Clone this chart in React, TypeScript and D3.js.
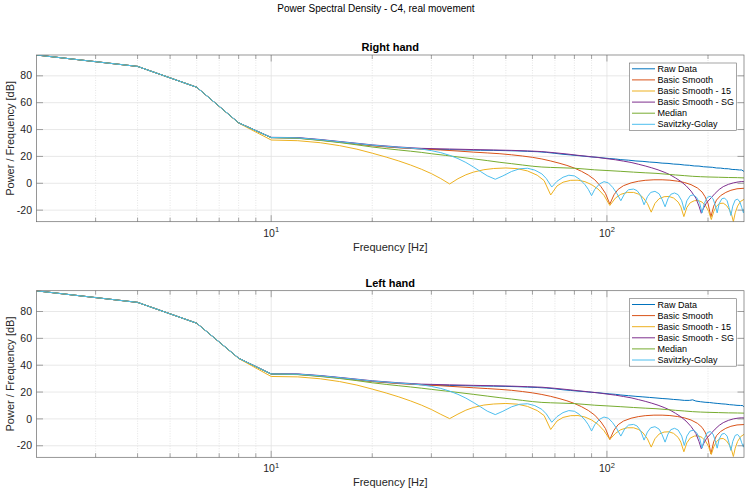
import React from "react";
import * as d3 from "d3";

type Pt = [number, number];

// ---------- data (frequency in Hz, power in dB) ----------
const SERIES_LABELS = ["Raw Data", "Basic Smooth", "Basic Smooth - 15", "Basic Smooth - SG", "Median", "Savitzky-Golay"];
const SERIES_COLORS = ["#0072BD", "#D95319", "#EDB120", "#7E2F8E", "#77AC30", "#4DBEEE"];
const PANEL_TITLES = ["Right hand", "Left hand"];
const SUPTITLE = "Power Spectral Density - C4, real movement";
const X_LABEL = "Frequency [Hz]";
const Y_LABEL = "Power / Frequency [dB]";
const X_DOMAIN: [number, number] = [2, 256];
const Y_DOMAIN: [number, number] = [-28.6, 95.5];
const Y_TICKS = [-20, 0, 20, 40, 60, 80];
const X_MAJOR_TICKS = [10, 100];
const X_MINOR_TICKS = [3, 4, 5, 6, 7, 8, 9, 20, 30, 40, 50, 60, 70, 80, 90, 200];

// Right hand
const rightRaw: Pt[] = [[2,95.5],[4,87.0],[6,71.5],[8,45.0],[10,34.0],[12,33.8],[14,32.3],[16,30.8],[18,29.4],[20,28.2],[22,27.3],[24,26.6],[26,26.0],[28,25.6],[30,25.3],[34,25.0],[38,24.8],[42,24.6],[46,24.5],[50,24.3],[54,24.1],[58,23.8],[62,23.5],[66,23.0],[70,22.3],[74,21.6],[78,21.1],[82,20.6],[86,20.1],[90,19.6],[94,19.3],[98,18.8],[102,18.4],[106,18.1],[110,17.6],[116,17.2],[122,16.6],[128,16.3],[134,15.8],[140,15.5],[146,15.0],[152,14.8],[158,14.3],[164,14.1],[170,13.6],[176,13.4],[182,12.9],[188,12.8],[194,12.3],[200,12.1],[206,11.9],[212,11.4],[218,11.3],[224,10.9],[230,10.8],[236,10.3],[242,10.2],[248,9.9],[252,9.9],[256,8.8]];
const rightBasic: Pt[] = [[2,95.5],[4,87.0],[6,71.5],[8,45.0],[10,34.0],[12,33.6],[14,32.1],[16,30.6],[18,29.2],[20,27.9],[24,26.4],[28,25.5],[32,24.8],[36,24.0],[40,23.2],[44,22.6],[48,22.0],[52,21.2],[56,20.3],[60,19.3],[64,18.1],[68,16.6],[72,15.0],[76,13.3],[80,11.3],[84,8.9],[88,6.1],[92,2.6],[96,-2.5],[99,-7.5],[102,-15.5],[105,-8.5],[108,-4.5],[112,-1.8],[118,0.3],[124,1.5],[130,2.2],[138,2.6],[146,2.6],[154,2.3],[162,1.6],[170,0.6],[178,-1.0],[186,-3.5],[192,-6.5],[196,-10.0],[200,-15.0],[204,-25.0],[208,-17.0],[212,-12.5],[218,-9.2],[226,-6.8],[234,-5.2],[244,-4.1],[256,-3.7]];
const rightBasic15: Pt[] = [[2,95.5],[4,87.0],[6,71.5],[8,44.8],[10,32.2],[12,31.7],[14,30.2],[16,28.0],[18,25.4],[20,22.4],[22,19.5],[24,16.6],[26,13.6],[28,10.5],[30,7.2],[32,3.5],[34,-0.5],[36,3.4],[38,6.3],[40,8.3],[43,10.1],[46,11.0],[50,11.4],[54,10.9],[58,9.2],[62,6.0],[65,2.0],[68,-8.7],[71,-2.0],[74,0.8],[78,2.2],[82,2.3],[86,1.2],[90,-1.0],[94,-4.2],[98,-9.0],[102,-16.5],[106,-11.0],[110,-8.2],[115,-6.8],[120,-6.8],[124,-8.0],[128,-10.5],[132,-15.0],[135.5,-21.5],[139,-15.0],[143,-11.5],[148,-10.0],[153,-9.8],[158,-11.0],[163,-14.0],[166,-17.5],[169.5,-24.8],[173,-18.0],[177,-14.5],[182,-13.0],[187,-12.8],[192,-14.0],[197,-17.0],[201,-21.0],[204.6,-27.0],[208,-21.0],[212,-17.0],[217,-15.0],[222,-14.8],[227,-16.5],[232,-20.0],[235.5,-24.0],[238,-28.6],[241,-22.0],[245,-17.0],[250,-13.5],[256,-12.0]];
const rightBasicSG: Pt[] = [[2,95.5],[4,87.0],[6,71.5],[8,45.0],[10,34.2],[12,34.0],[14,32.6],[16,31.1],[18,29.8],[20,28.6],[24,27.0],[28,26.0],[34,25.5],[40,25.1],[46,24.8],[52,24.5],[58,24.1],[64,23.6],[70,22.7],[76,21.8],[82,20.8],[88,20.0],[94,19.2],[100,18.3],[106,17.5],[112,16.5],[118,15.5],[124,14.2],[130,12.9],[136,11.5],[142,10.0],[148,8.3],[154,6.4],[160,4.0],[166,1.4],[172,-1.8],[178,-5.8],[184,-11.0],[188,-17.0],[191,-22.3],[194,-18.5],[198,-14.5],[204,-11.0],[210,-7.5],[216,-4.6],[222,-2.5],[230,-0.8],[238,0.3],[246,1.0],[252,1.3],[256,1.2]];
const rightMedian: Pt[] = [[2,95.5],[4,87.0],[6,71.5],[8,45.0],[10,34.0],[12,33.5],[14,31.9],[16,30.3],[18,28.6],[20,27.0],[22,25.8],[24,24.8],[26,23.9],[28,23.0],[30,22.0],[33,20.8],[36,19.6],[40,18.2],[44,16.9],[48,15.6],[52,14.6],[56,13.6],[60,12.7],[64,12.1],[68,11.8],[74,11.5],[80,11.2],[86,10.6],[92,10.0],[100,9.5],[110,8.9],[120,8.3],[130,7.8],[140,7.4],[150,6.8],[160,6.2],[170,5.7],[180,5.2],[190,4.9],[200,4.7],[215,4.5],[230,4.3],[245,4.2],[256,4.0]];
const rightSG: Pt[] = [[2,95.5],[4,87.0],[6,71.5],[8,45.0],[10,34.1],[12,33.8],[14,32.4],[16,30.9],[18,29.6],[20,28.4],[22,27.5],[24,26.8],[26,26.2],[28,25.5],[30,24.3],[32,22.8],[34,20.8],[36,18.4],[38,15.5],[40,12.2],[42,8.8],[44,5.6],[46.5,3.0],[49,5.5],[52,8.8],[55,10.8],[58,11.2],[61,9.8],[64,7.0],[66,3.5],[68.5,-2.8],[71,1.5],[74,4.5],[77,6.0],[80,5.5],[83,3.0],[86,-1.0],[88,-4.5],[90,-9.2],[92,-4.5],[95,-0.5],[98,1.2],[101,0.3],[104,-3.0],[107,-7.5],[110,-13.0],[113,-7.5],[116,-4.8],[120,-4.3],[123,-5.5],[126,-9.0],[129,-16.0],[132,-10.0],[135,-6.8],[139,-6.0],[143,-7.8],[146,-12.0],[149,-17.5],[152,-11.5],[155,-8.2],[159,-7.2],[163,-8.5],[167,-13.0],[170,-20.0],[173,-13.0],[177,-9.2],[181,-8.6],[185,-10.5],[189,-15.0],[192,-22.0],[195,-15.0],[199,-10.5],[203,-9.6],[207,-11.5],[210,-16.0],[213,-22.0],[216,-15.0],[220,-11.5],[224,-11.0],[228,-13.0],[231,-18.0],[234,-24.0],[237,-17.0],[241,-12.5],[245,-11.8],[249,-14.0],[252,-18.0],[255,-22.0],[256,-19.0]];

// Left hand
const leftRaw: Pt[] = [[2,95.4],[4,86.8],[6,71.3],[8,45.2],[10,33.4],[12,33.3],[14,32.0],[16,30.6],[18,29.2],[20,28.0],[22,27.2],[24,26.5],[26,26.0],[28,25.5],[30,25.2],[34,24.9],[38,24.7],[42,24.5],[46,24.4],[50,24.2],[54,24.0],[58,23.7],[62,23.4],[66,23.0],[70,22.4],[74,21.7],[78,21.2],[82,20.7],[86,20.3],[90,19.8],[94,19.5],[98,19.0],[102,18.6],[106,18.3],[110,17.8],[116,17.3],[122,16.8],[128,16.4],[134,16.0],[140,15.6],[146,15.2],[152,14.9],[158,14.5],[164,14.2],[170,13.8],[176,13.8],[180,14.2],[184,13.3],[190,12.8],[196,12.4],[202,12.2],[208,11.8],[214,11.5],[220,11.2],[226,11.0],[232,10.6],[238,10.4],[244,10.1],[250,10.0],[254,9.9],[256,8.9]];
const leftBasic: Pt[] = [[2,95.4],[4,86.8],[6,71.3],[8,45.2],[10,33.4],[12,33.1],[14,31.8],[16,30.4],[18,29.0],[20,27.8],[24,26.3],[28,25.4],[32,24.7],[36,23.9],[40,23.2],[44,22.6],[48,22.0],[52,21.3],[56,20.4],[60,19.4],[64,18.2],[68,16.8],[72,15.2],[76,13.5],[80,11.5],[84,9.1],[88,6.3],[92,2.8],[96,-2.3],[99,-7.2],[102,-15.3],[105,-8.3],[108,-4.3],[112,-1.6],[118,0.5],[124,1.7],[130,2.4],[138,2.8],[146,2.8],[154,2.5],[162,1.8],[170,0.8],[178,-0.8],[186,-3.3],[192,-6.3],[196,-9.8],[200,-14.8],[204,-26.0],[208,-17.0],[212,-12.5],[218,-9.4],[226,-7.0],[234,-5.5],[244,-4.5],[256,-4.2]];
const leftBasic15: Pt[] = [[2,95.4],[4,86.8],[6,71.3],[8,45.0],[10,31.6],[12,31.3],[14,29.9],[16,27.8],[18,25.2],[20,22.2],[22,19.3],[24,16.4],[26,13.4],[28,10.3],[30,7.0],[32,3.4],[34,0.2],[36,3.6],[38,6.5],[40,8.5],[43,10.3],[46,11.1],[50,11.5],[54,11.0],[58,9.3],[62,6.2],[65,2.5],[68,-7.9],[71,-1.6],[74,1.1],[78,2.4],[82,2.5],[86,1.4],[90,-0.8],[94,-4.0],[98,-8.8],[102,-15.3],[106,-10.8],[110,-8.0],[115,-6.6],[120,-6.6],[124,-7.8],[128,-10.3],[132,-14.8],[135.5,-21.0],[139,-14.8],[143,-11.3],[148,-9.8],[153,-9.6],[158,-10.8],[163,-13.8],[166,-17.3],[169.5,-24.5],[173,-17.8],[177,-14.3],[182,-12.8],[187,-12.6],[192,-13.8],[197,-16.8],[201,-20.8],[204.6,-26.5],[208,-20.8],[212,-16.8],[217,-14.8],[222,-14.6],[227,-16.3],[232,-19.8],[235.5,-23.8],[238,-28.0],[241,-21.8],[245,-16.8],[250,-13.3],[256,-11.5]];
const leftBasicSG: Pt[] = [[2,95.4],[4,86.8],[6,71.3],[8,45.2],[10,33.6],[12,33.5],[14,32.3],[16,30.9],[18,29.6],[20,28.4],[24,26.9],[28,25.9],[34,25.4],[40,25.0],[46,24.7],[52,24.4],[58,24.0],[64,23.6],[70,22.8],[76,21.9],[82,21.0],[88,20.2],[94,19.4],[100,18.5],[106,17.7],[112,16.7],[118,15.7],[124,14.4],[130,13.1],[136,11.7],[142,10.2],[148,8.5],[154,6.6],[160,4.2],[166,1.6],[172,-1.6],[178,-5.6],[184,-10.8],[188,-16.8],[191,-22.2],[194,-18.5],[198,-14.5],[204,-11.0],[210,-7.6],[216,-4.8],[222,-2.8],[230,-1.1],[238,0.0],[246,0.6],[252,0.8],[256,0.7]];
const leftMedian: Pt[] = [[2,95.4],[4,86.8],[6,71.3],[8,45.2],[10,33.4],[12,33.0],[14,31.6],[16,30.1],[18,28.5],[20,26.9],[22,25.7],[24,24.7],[26,23.8],[28,22.9],[30,22.0],[33,20.8],[36,19.7],[40,18.3],[44,17.0],[48,15.8],[52,14.8],[56,13.8],[60,12.9],[64,12.3],[68,12.0],[74,11.7],[80,11.4],[86,10.8],[92,10.2],[100,9.7],[110,9.1],[120,8.5],[130,8.0],[140,7.6],[150,7.0],[160,6.4],[170,5.9],[180,5.4],[190,5.1],[200,4.9],[215,4.7],[230,4.5],[245,4.4],[256,4.3]];
const leftSG: Pt[] = [[2,95.4],[4,86.8],[6,71.3],[8,45.2],[10,33.5],[12,33.3],[14,32.1],[16,30.7],[18,29.4],[20,28.2],[22,27.4],[24,26.7],[26,26.1],[28,25.4],[30,24.2],[32,22.7],[34,20.7],[36,18.3],[38,15.5],[40,12.3],[42,9.0],[44,5.8],[46.5,3.2],[49,5.7],[52,9.0],[55,10.9],[58,11.3],[61,9.9],[64,7.1],[66,3.7],[68.5,-2.5],[71,1.7],[74,4.7],[77,6.2],[80,5.7],[83,3.2],[86,-0.8],[88,-4.3],[90,-9.0],[92,-4.3],[95,-0.3],[98,1.4],[101,0.5],[104,-2.8],[107,-7.3],[110,-12.8],[113,-7.3],[116,-4.6],[120,-4.1],[123,-5.3],[126,-8.8],[129,-15.8],[132,-9.8],[135,-6.6],[139,-5.8],[143,-7.6],[146,-11.8],[149,-17.3],[152,-11.3],[155,-8.0],[159,-7.0],[163,-8.3],[167,-12.8],[170,-19.8],[173,-12.8],[177,-9.0],[181,-8.4],[185,-10.3],[189,-14.8],[192,-21.8],[195,-14.8],[199,-10.3],[203,-9.4],[207,-11.3],[210,-15.8],[213,-21.8],[216,-14.8],[220,-11.3],[224,-10.8],[228,-12.8],[231,-17.8],[234,-23.5],[237,-16.8],[241,-12.3],[245,-11.6],[249,-13.8],[252,-17.8],[255,-21.0],[256,-18.5]];

const RIGHT_SERIES = [rightRaw, rightBasic, rightBasic15, rightBasicSG, rightMedian, rightSG];
const LEFT_SERIES = [leftRaw, leftBasic, leftBasic15, leftBasicSG, leftMedian, leftSG];

// ---------- layout ----------
const W = 748;
const H = 493;
const AX_LEFT = 36.5;
const AX_RIGHT = 744;
const PANEL_BOXES = [
  { top: 55, bottom: 221.7 },
  { top: 290.7, bottom: 457.3 },
];
const FONT = "'Liberation Sans', Arial, Helvetica, sans-serif";
const TEXT_COLOR = "#262626";
const AXIS_COLOR = "#6a6a6a";

function Panel({ idx, series }: { idx: number; series: Pt[][] }) {
  const { top, bottom } = PANEL_BOXES[idx];
  const x = d3.scaleLog().domain(X_DOMAIN).range([AX_LEFT, AX_RIGHT]);
  const y = d3.scaleLinear().domain(Y_DOMAIN).range([bottom, top]);
  const line = d3
    .line<Pt>()
    .x((d) => x(d[0]))
    .y((d) => y(d[1]));
  const clipId = `clip-${idx}`;
  const majorLen = 6.5;
  const minorLen = 4;
  const legX = AX_RIGHT - 114.5;
  const legY = top + 8;
  const legW = 107;
  const rowH = 11.1;
  const legH = 67.5;
  return (
    <g>
      <defs>
        <clipPath id={clipId}>
          <rect x={AX_LEFT} y={top} width={AX_RIGHT - AX_LEFT} height={bottom - top} />
        </clipPath>
      </defs>
      <rect x={AX_LEFT} y={top} width={AX_RIGHT - AX_LEFT} height={bottom - top} fill="#fff" />
      {/* grid */}
      {X_MINOR_TICKS.map((t) => (
        <line key={`mg${t}`} x1={x(t)} x2={x(t)} y1={top} y2={bottom} stroke="#d4d4d4" strokeWidth={0.6} strokeDasharray="1 1.5" />
      ))}
      {X_MAJOR_TICKS.map((t) => (
        <line key={`Mg${t}`} x1={x(t)} x2={x(t)} y1={top} y2={bottom} stroke="#e2e2e2" strokeWidth={0.8} />
      ))}
      {Y_TICKS.map((t) => (
        <line key={`yg${t}`} x1={AX_LEFT} x2={AX_RIGHT} y1={y(t)} y2={y(t)} stroke="#e2e2e2" strokeWidth={0.8} />
      ))}
      {/* data */}
      <g clipPath={`url(#${clipId})`}>
        {series.map((s, i) => (
          <path key={i} d={line(s) || ""} fill="none" stroke={SERIES_COLORS[i]} strokeWidth={1} strokeLinejoin="round" />
        ))}
      </g>
      {/* frame */}
      <rect x={AX_LEFT} y={top} width={AX_RIGHT - AX_LEFT} height={bottom - top} fill="none" stroke={AXIS_COLOR} strokeWidth={0.7} />
      {/* ticks */}
      {X_MINOR_TICKS.map((t) => (
        <g key={`mt${t}`} stroke={AXIS_COLOR} strokeWidth={0.6}>
          <line x1={x(t)} x2={x(t)} y1={bottom} y2={bottom - minorLen} />
          <line x1={x(t)} x2={x(t)} y1={top} y2={top + minorLen} />
        </g>
      ))}
      {X_MAJOR_TICKS.map((t) => (
        <g key={`Mt${t}`} stroke={AXIS_COLOR} strokeWidth={0.6}>
          <line x1={x(t)} x2={x(t)} y1={bottom} y2={bottom - majorLen} />
          <line x1={x(t)} x2={x(t)} y1={top} y2={top + majorLen} />
        </g>
      ))}
      {Y_TICKS.map((t) => (
        <g key={`yt${t}`} stroke={AXIS_COLOR} strokeWidth={0.6}>
          <line x1={AX_LEFT} x2={AX_LEFT + majorLen} y1={y(t)} y2={y(t)} />
          <line x1={AX_RIGHT} x2={AX_RIGHT - majorLen} y1={y(t)} y2={y(t)} />
        </g>
      ))}
      {/* tick labels */}
      {Y_TICKS.map((t) => (
        <text key={`yl${t}`} x={AX_LEFT - 4.5} y={y(t)} dy="0.35em" textAnchor="end" fontSize={10.5} fill={TEXT_COLOR} fontFamily={FONT}>
          {t}
        </text>
      ))}
      {X_MAJOR_TICKS.map((t) => (
        <text key={`xl${t}`} x={x(t)} y={bottom + 15} textAnchor="middle" fontSize={10.5} fill={TEXT_COLOR} fontFamily={FONT}>
          10
          <tspan fontSize={7.5} dy={-4.5}>{Math.round(Math.log10(t))}</tspan>
        </text>
      ))}
      {/* axis labels */}
      <text x={(AX_LEFT + AX_RIGHT) / 2} y={bottom + 29} textAnchor="middle" fontSize={11} fill={TEXT_COLOR} fontFamily={FONT}>
        {X_LABEL}
      </text>
      <text
        transform={`translate(${13.5},${(top + bottom) / 2}) rotate(-90)`}
        textAnchor="middle"
        fontSize={11}
        fill={TEXT_COLOR}
        fontFamily={FONT}
      >
        {Y_LABEL}
      </text>
      <text x={(AX_LEFT + AX_RIGHT) / 2} y={top - 4} textAnchor="middle" fontSize={11} fontWeight="bold" fill="#000" fontFamily={FONT}>
        {PANEL_TITLES[idx]}
      </text>
      {/* legend */}
      <rect x={legX} y={legY} width={legW} height={legH} fill="#fff" stroke={AXIS_COLOR} strokeWidth={0.6} />
      {SERIES_LABELS.map((lab, i) => {
        const cy = legY + 5.8 + rowH * i;
        return (
          <g key={lab}>
            <line x1={legX + 2.5} x2={legX + 25.5} y1={cy} y2={cy} stroke={SERIES_COLORS[i]} strokeWidth={1} />
            <text x={legX + 28} y={cy} dy="0.35em" fontSize={9} fill="#000" fontFamily={FONT}>
              {lab}
            </text>
          </g>
        );
      })}
    </g>
  );
}

export default function App() {
  return (
    <svg width={W} height={H} style={{ position: "absolute", left: 0, top: 0, background: "#fff" }}>
      <rect x={0} y={0} width={W} height={H} fill="#fff" />
      <text x={376} y={12} textAnchor="middle" fontSize={10} fill="#000" fontFamily={FONT}>
        {SUPTITLE}
      </text>
      <Panel idx={0} series={RIGHT_SERIES} />
      <Panel idx={1} series={LEFT_SERIES} />
    </svg>
  );
}
